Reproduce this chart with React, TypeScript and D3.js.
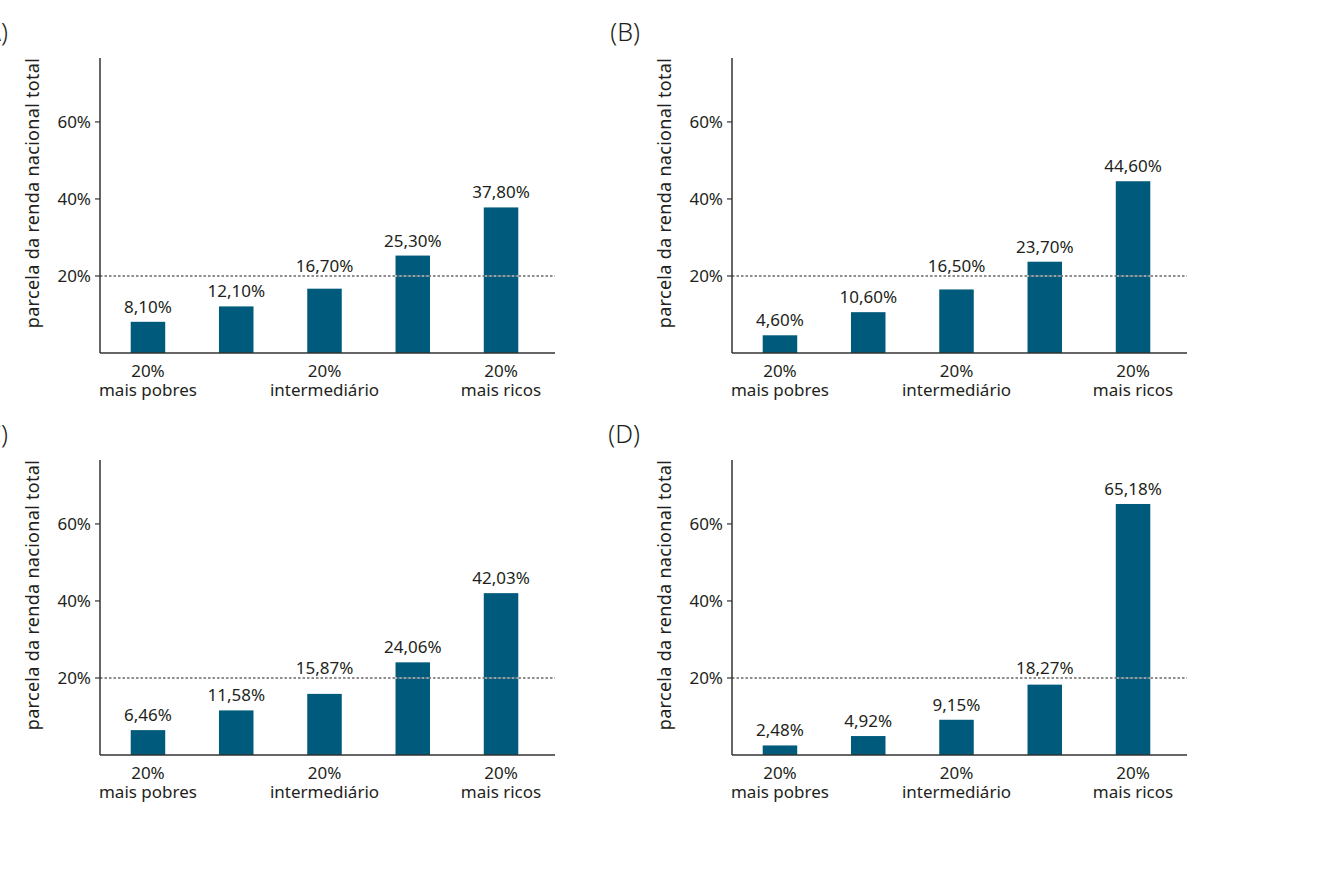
import { useEffect, useRef } from "react"
import * as d3 from "d3"

const groups = ["q1", "q2", "q3", "q4", "q5"]
const categoryTop = ["20%", "", "20%", "", "20%"]
const categoryBottom = ["mais pobres", "", "intermediário", "", "mais ricos"]

const panelNames = ["(A)", "(B)", "(C)", "(D)"]
const valuesA = [8.1, 12.1, 16.7, 25.3, 37.8]
const valuesB = [4.6, 10.6, 16.5, 23.7, 44.6]
const valuesC = [6.46, 11.58, 15.87, 24.06, 42.03]
const valuesD = [2.48, 4.92, 9.15, 18.27, 65.18]

const yTicks = [20, 40, 60]
const refLine = 20
const yTitle = "parcela da renda nacional total"

const BAR = "#005a7c"
const INK = "#231f20"
const FONT = "'Noto Sans', 'Open Sans', sans-serif"
const FS = 17

const fmt = (v: number) => v.toFixed(2).replace(".", ",") + "%"

export default function App() {
  const svgRef = useRef<SVGSVGElement>(null)

  useEffect(() => {
    if (!svgRef.current) return
    const root = d3.select(svgRef.current)
    root.selectAll("*").remove()

    const panels = [
      { name: panelNames[0], values: valuesA, ox: 0, oy: 0 },
      { name: panelNames[1], values: valuesB, ox: 632, oy: 0 },
      { name: panelNames[2], values: valuesC, ox: 0, oy: 402 },
      { name: panelNames[3], values: valuesD, ox: 632, oy: 402 },
    ]

    // shared scales, panel offset via transform
    const x = d3.scaleBand().domain(groups).range([100, 549]).paddingInner(0.609).paddingOuter(0.348)
    const y = d3.scaleLinear().domain([0, 76.6]).range([353, 58])
    const axisRight = 555

    panels.forEach((p) => {
      const g = root.append("g").attr("transform", `translate(${p.ox},${p.oy})`)

      g.append("text")
        .attr("x", 8)
        .attr("y", 41)
        .attr("text-anchor", "end")
        .attr("font-size", 25)
        .attr("font-weight", 300)
        .attr("fill", INK)
        .text(p.name)

      // y axis title
      g.append("text")
        .attr("transform", `translate(39,${(y(76.6) + 328) / 2}) rotate(-90)`)
        .attr("text-anchor", "middle")
        .attr("font-size", 18)
        .attr("letter-spacing", 0.3)
        .attr("fill", INK)
        .text(yTitle)

      // bars
      g.selectAll(".bar")
        .data(p.values)
        .enter()
        .append("rect")
        .attr("x", (_, i) => x(groups[i]) || 0)
        .attr("width", x.bandwidth())
        .attr("y", (d) => y(d))
        .attr("height", (d) => y(0) - y(d))
        .attr("fill", BAR)

      // 20% reference line (white under dark dashes so it shows on bars)
      g.append("line")
        .attr("x1", 100)
        .attr("x2", axisRight)
        .attr("y1", y(refLine))
        .attr("y2", y(refLine))
        .attr("stroke", "#fff")
        .attr("stroke-width", 1.2)
      g.append("line")
        .attr("x1", 100)
        .attr("x2", axisRight)
        .attr("y1", y(refLine))
        .attr("y2", y(refLine))
        .attr("stroke", INK)
        .attr("stroke-width", 1.2)
        .attr("stroke-dasharray", "2.5,2")

      // value labels, lifted above the dashed line when they would overlap it
      g.selectAll(".val")
        .data(p.values)
        .enter()
        .append("text")
        .attr("x", (_, i) => (x(groups[i]) || 0) + x.bandwidth() / 2)
        .attr("y", (d) => {
          const base = y(d) - 9
          const lineY = y(refLine)
          if (d < refLine && Math.abs(base - 6 - lineY) < 10) return lineY - 4
          return base
        })
        .attr("text-anchor", "middle")
        .attr("font-size", FS)
        .attr("fill", INK)
        .text((d) => fmt(d))

      // y axis
      g.append("line")
        .attr("x1", 100)
        .attr("x2", 100)
        .attr("y1", y(76.6))
        .attr("y2", y(0))
        .attr("stroke", "#333")
        .attr("stroke-width", 1.5)
      yTicks.forEach((t) => {
        g.append("line")
          .attr("x1", 95)
          .attr("x2", 100)
          .attr("y1", y(t))
          .attr("y2", y(t))
          .attr("stroke", "#333")
          .attr("stroke-width", 1.2)
        g.append("text")
          .attr("x", 91)
          .attr("y", y(t))
          .attr("dy", "0.35em")
          .attr("text-anchor", "end")
          .attr("font-size", FS)
          .attr("fill", INK)
          .text(`${t}%`)
      })

      // x axis
      g.append("line")
        .attr("x1", 100)
        .attr("x2", axisRight)
        .attr("y1", y(0))
        .attr("y2", y(0))
        .attr("stroke", "#333")
        .attr("stroke-width", 1.5)

      groups.forEach((k, i) => {
        const cx = (x(k) || 0) + x.bandwidth() / 2
        if (categoryTop[i]) {
          g.append("text")
            .attr("x", cx)
            .attr("y", y(0) + 24)
            .attr("text-anchor", "middle")
            .attr("font-size", FS)
            .attr("fill", INK)
            .text(categoryTop[i])
        }
        if (categoryBottom[i]) {
          g.append("text")
            .attr("x", cx)
            .attr("y", y(0) + 43)
            .attr("text-anchor", "middle")
            .attr("font-size", FS)
            .attr("fill", INK)
            .text(categoryBottom[i])
        }
      })
    })
  }, [])

  return (
    <svg
      ref={svgRef}
      width={1333}
      height={886}
      style={{ position: "absolute", left: 0, top: 0, background: "#fff", fontFamily: FONT }}
    />
  )
}
